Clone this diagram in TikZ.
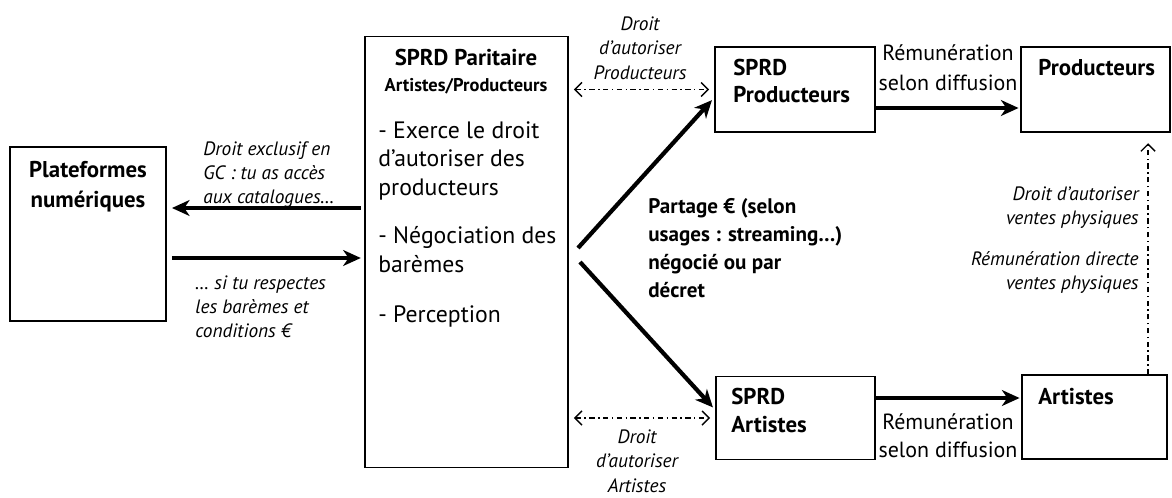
\documentclass[tikz,border=0pt]{standalone}
\usepackage{fontspec}
\setmainfont{PT Sans}
\usetikzlibrary{arrows.meta}

\tikzset{
  box/.style={draw, line width=0.8pt, inner sep=0pt},
  flow/.style={line width=2.4pt, -{Stealth[length=10pt,width=9pt,inset=3pt]}},
  ddash/.style={line width=0.8pt, dash pattern=on 3pt off 2pt on 0.8pt off 2pt},
  note/.style={font=\fontsize{11}{13.9}\selectfont\itshape, inner sep=0pt},
  txt/.style={font=\fontsize{12.5}{17}\selectfont, inner sep=0pt},
  btxt/.style={font=\fontsize{13}{15.5}\selectfont\bfseries, inner sep=0pt}
}

\begin{document}
\begin{tikzpicture}[x=0.02cm, y=-0.02cm, >={Straight Barb[length=4pt,width=8pt]}]
\useasboundingbox (0,0) rectangle (1172,497);

% boxes
\node[box, minimum width=3.12cm, minimum height=3.48cm] (plat) at (88,234) {};
\node[box, minimum width=4.06cm, minimum height=8.62cm] (pari) at (466.5,252) {};
\node[box, minimum width=3.2cm, minimum height=1.7cm] (sprdP) at (795,89.5) {};
\node[box, minimum width=2.98cm, minimum height=1.7cm] (prod) at (1095.5,89.5) {};
\node[box, minimum width=3.18cm, minimum height=1.66cm] (sprdA) at (795.5,418) {};
\node[box, minimum width=2.9cm, minimum height=1.68cm] (art) at (1094.5,417) {};

% box texts
\node[btxt, anchor=north, align=center, font=\fontsize{13}{17}\selectfont\bfseries] (platT) at (88,161) {Plateformes\\numériques};
\node[btxt, anchor=north] (pariT) at (466,49) {SPRD Paritaire};
\node[inner sep=0pt, anchor=north, font=\fontsize{10.5}{13}\selectfont\bfseries] (pariS) at (466,78) {Artistes/Producteurs};
\node[anchor=north west, align=left, inner sep=0pt, font=\fontsize{13.5}{16.4}\selectfont] (pariB) at (378,121)
  {- Exerce le droit\\d’autoriser des\\producteurs\\[11pt]- Négociation des\\barèmes\\[12pt]- Perception};
\node[btxt, anchor=north west, align=left] (sprdPT) at (733,59) {SPRD\\Producteurs};
\node[btxt, anchor=north west] (prodT) at (1038,59) {Producteurs};
\node[btxt, anchor=north west, align=left, font=\fontsize{13}{15.9}\selectfont\bfseries] (sprdAT) at (731,388) {SPRD\\Artistes};
\node[btxt, anchor=north west] (artT) at (1038,388) {Artistes};

% connectors
\coordinate (gc) at (0,208);
\coordinate (bar) at (0,258);
\draw[flow, shorten >=3pt, shorten <=2pt] (pari.west |- gc) -- (plat.east |- gc);
\draw[flow, shorten >=2pt, shorten <=3pt] (plat.east |- bar) -- (pari.west |- bar);

\coordinate (fork1) at (578,248);
\coordinate (fork2) at (580,262);
\draw[flow, shorten >=2pt] (fork1) -- ([yshift=-0.16cm]sprdP.west);
\draw[flow, shorten >=2pt] (fork2) -- ([yshift=0.16cm]sprdA.west);

\draw[flow, shorten >=1pt] ([yshift=-0.37cm]sprdP.east) coordinate (rp) -- (rp -| prod.west);
\draw[flow, shorten >=1pt] ([yshift=0.4cm]sprdA.east) coordinate (ra) -- (ra -| art.west);

\draw[ddash, <->, shorten <=3pt, shorten >=3pt] (pari.east |- sprdP.west) -- (sprdP.west);
\draw[ddash, <->, shorten <=3pt, shorten >=3pt] (pari.east |- sprdA.west) -- (sprdA.west);

\coordinate (vx) at (1148,0);
\draw[ddash, ->, shorten >=6pt] (art.north -| vx) -- (prod.south -| vx);

% labels
\node[note, anchor=north west, align=left] (gcL) at (203,141)
  {Droit exclusif en\\GC : tu as accès\\aux catalogues…};
\node[note, anchor=north west, align=left] (barL) at (195,275)
  {… si tu respectes\\les barèmes et\\conditions €};
\node[anchor=north west, align=left, inner sep=0pt, font=\fontsize{12}{15.9}\selectfont\bfseries] (partL) at (648,198)
  {Partage € (selon\\usages : streaming…)\\négocié ou par\\décret};
\node[note, anchor=north, align=center, font=\fontsize{11}{14}\selectfont\itshape] (drP) at (640,16) {Droit\\d’autoriser\\Producteurs};
\node[note, anchor=north, align=center, font=\fontsize{11}{14}\selectfont\itshape] (drA) at (637,429) {Droit\\d’autoriser\\Artistes};
\node[txt, anchor=north, align=center] (remP) at (948,44) {Rémunération\\selon diffusion};
\node[txt, anchor=north, align=center, font=\fontsize{12.5}{15.9}\selectfont] (remA) at (948,413) {Rémunération\\selon diffusion};
\node[note, anchor=north east, align=right] (venteD) at (1139,186) {Droit d’autoriser\\ventes physiques};
\node[note, anchor=north east, align=right] (venteR) at (1139,251) {Rémunération directe\\ventes physiques};
\end{tikzpicture}
\end{document}
